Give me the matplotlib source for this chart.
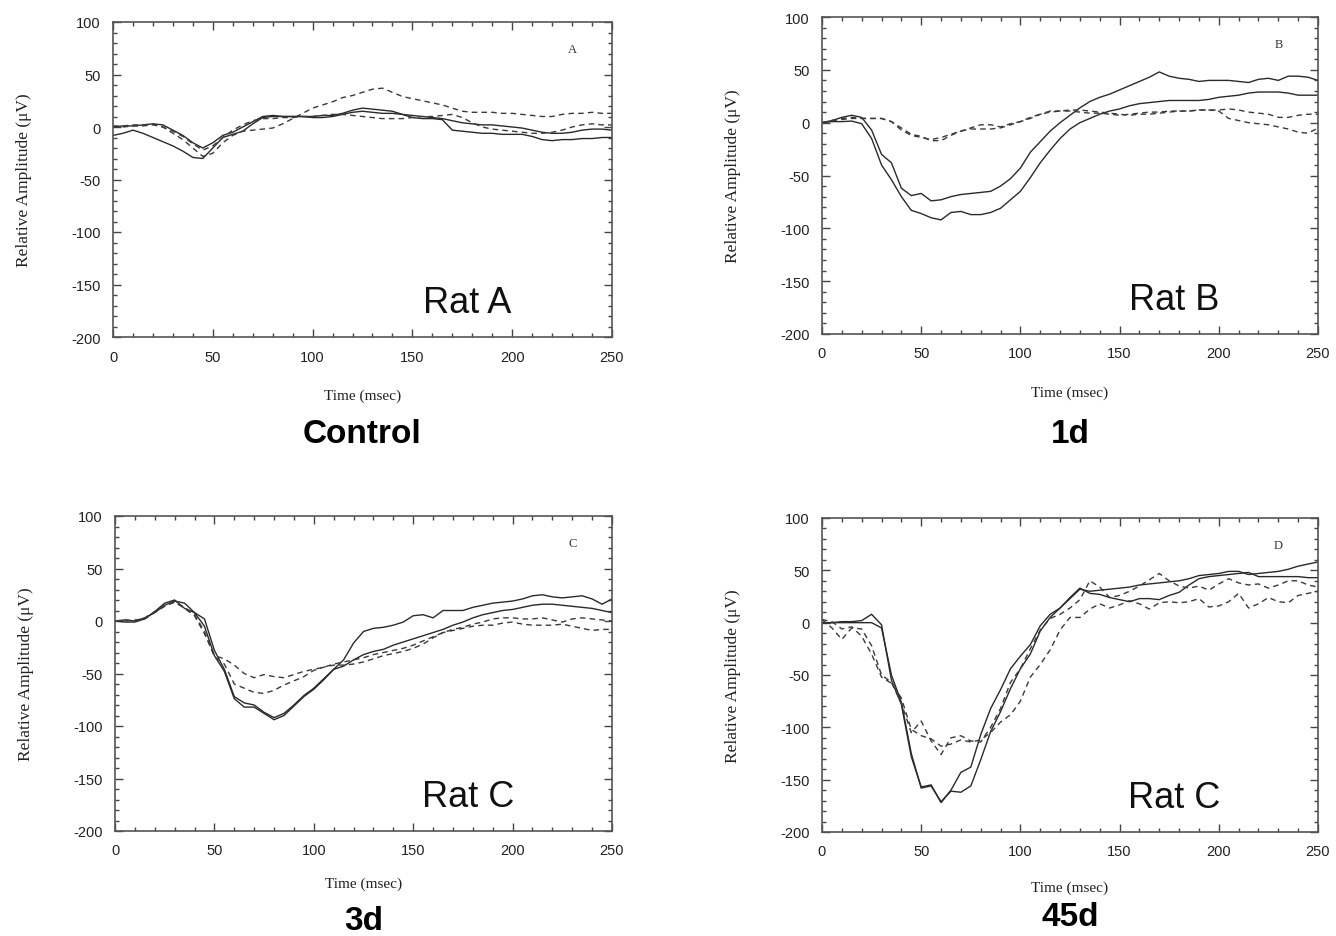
import numpy as np
import matplotlib
matplotlib.use('Agg')
import matplotlib.pyplot as plt
from matplotlib.ticker import MultipleLocator

plt.rcParams['axes.unicode_minus'] = False

W, H = 1336, 937

# sample times (msec), one value every 5 msec
time_ms = list(range(0, 251, 5))

# ---- panel A : control, Rat A
ctrl_solid1 = [-8, -6, -3, -6, -10, -14, -18, -23, -29, -30, -20, -10, -7, -4, 3, 9, 10, 10, 10, 10,
               10, 11, 11, 13, 16, 18, 17, 16, 15, 12, 9, 8, 8, 7, -3, -4, -5, -6, -6, -7,
               -7, -7, -9, -12, -13, -12, -12, -11, -11, -10, -10]
ctrl_solid2 = [0, 1, 1, 2, 3, 2, -3, -8, -15, -20, -15, -8, -5, 0, 5, 10, 11, 10, 10, 10,
               9, 9, 10, 12, 14, 15, 14, 13, 13, 12, 11, 10, 9, 8, 6, 4, 3, 2, 2, 1,
               0, -1, -3, -5, -6, -6, -5, -3, -2, -2, -3]
ctrl_dash1 = [1, 1, 2, 2, 3, 0, -6, -12, -20, -28, -25, -15, -8, -4, -3, -2, -1, 3, 8, 13,
              18, 21, 24, 28, 30, 33, 36, 37, 33, 29, 27, 25, 23, 21, 18, 15, 14, 14, 14, 13,
              13, 12, 11, 10, 10, 12, 13, 13, 14, 13, 13]
ctrl_dash2 = [0, 0, 1, 1, 2, 0, -4, -9, -16, -22, -18, -10, -3, 2, 6, 8, 8, 9, 9, 10,
              10, 11, 12, 12, 11, 10, 9, 8, 8, 8, 9, 10, 10, 11, 12, 9, 4, 0, -2, -3,
              -4, -5, -6, -6, -5, -3, 0, 2, 3, 2, 2]

# ---- panel B : 1 day, Rat B
d1_solid1 = [0, 1, 1, 1.5, -1, -15, -40, -54, -70, -83, -86, -90, -92, -85, -84, -87, -87, -85, -81, -73,
             -65, -52, -38, -26, -15, -6, 0, 4, 8, 11, 13, 16, 18, 19, 20, 21, 21, 21, 21, 22,
             24, 25, 26, 28, 29, 29, 29, 28, 26, 26, 26]
d1_solid2 = [0, 2, 5, 7, 5, -7, -30, -38, -62, -69, -67, -74, -73, -70, -68, -67, -66, -65, -60, -53,
             -43, -28, -18, -8, 0, 7, 14, 20, 24, 27, 31, 35, 39, 43, 48, 44, 42, 41, 39, 40,
             40, 40, 39, 38, 41, 42, 40, 44, 44, 43, 40]
d1_dash1 = [0, 2, 4, 5, 4, 4, 4, 1, -5, -11, -13, -17, -17, -12, -8, -5, -2, -2, -4, -1,
            1, 5, 8, 10, 11, 12, 12, 11, 10, 9, 8, 7, 8, 8, 9, 10, 11, 11, 12, 12,
            11, 4, 2, 0, -1, -2, -4, -6, -9, -10, -5]
d1_dash2 = [0, 2, 3, 4, 4, 4, 4, 1, -7, -12, -14, -16, -14, -11, -8, -6, -6, -6, -5, -2,
            1, 4, 8, 11, 11, 11, 10, 9, 9, 8, 7, 8, 9, 10, 10, 11, 11, 11, 12, 12,
            12, 13, 12, 10, 9, 8, 5, 5, 7, 8, 8]

# ---- panel C : 3 days, Rat C
d3_solid1 = [0, -1, -1, 2, 9, 17, 20, 12, 8, -5, -33, -48, -74, -82, -82, -88, -94, -90, -81, -72,
             -65, -56, -46, -37, -21, -10, -7, -6, -4, -1, 5, 6, 3, 10, 10, 10, 13, 15, 17, 18,
             19, 21, 24, 25, 23, 22, 23, 24, 21, 16, 21]
d3_solid2 = [0, 1, 0, 3, 8, 15, 19, 17, 8, 2, -28, -46, -72, -78, -80, -87, -92, -88, -80, -71,
             -64, -55, -46, -43, -37, -32, -29, -27, -23, -20, -17, -14, -11, -8, -4, -1, 3, 6, 8, 10,
             11, 13, 15, 16, 16, 15, 14, 13, 12, 10, 8]
d3_dash1 = [0, 0, 1, 2, 8, 14, 18, 12, 5, -12, -33, -36, -42, -50, -54, -51, -53, -54, -51, -48,
            -46, -44, -41, -39, -37, -35, -32, -30, -28, -26, -23, -19, -15, -11, -8, -6, -3, -1, 2, 3,
            3, 2, 2, 3, 1, -1, 2, 3, 2, 1, 0]
d3_dash2 = [0, 1, 0, 3, 9, 15, 18, 13, 6, -10, -34, -41, -60, -64, -68, -69, -66, -61, -57, -53,
            -47, -44, -42, -42, -41, -39, -36, -33, -31, -29, -26, -22, -16, -11, -9, -7, -5, -4, -4, -2,
            -1, -3, -4, -4, -4, -3, -5, -7, -9, -8, -8]

# ---- panel D : 45 days, Rat C
d45_solid1 = [0, 0, 1, 1, 2, 8, -2, -55, -78, -128, -157, -155, -172, -160, -143, -138, -107, -82, -64, -44,
              -32, -21, -3, 8, 14, 23, 32, 30, 31, 32, 33, 34, 36, 37, 38, 39, 40, 42, 45, 46,
              47, 49, 49, 46, 47, 48, 49, 51, 54, 56, 58]
d45_solid2 = [0, 0, 0, 0, 0, 0, -5, -50, -76, -125, -158, -156, -171, -161, -162, -156, -131, -104, -85, -63,
              -44, -30, -8, 5, 14, 24, 33, 28, 27, 24, 22, 20, 23, 23, 22, 26, 29, 36, 42, 44,
              45, 46, 47, 48, 44, 44, 44, 44, 44, 43, 43]
d45_dash1 = [3, -5, -16, -5, -6, -22, -50, -57, -77, -105, -94, -113, -126, -110, -108, -113, -114, -100, -82, -57,
             -44, -25, -7, 4, 8, 14, 22, 40, 34, 24, 26, 30, 35, 41, 47, 40, 35, 33, 35, 31,
             37, 42, 38, 36, 37, 33, 36, 40, 40, 36, 34]
d45_dash2 = [3, 1, -6, -4, -13, -30, -52, -58, -72, -102, -108, -111, -118, -116, -112, -114, -112, -105, -95, -88,
             -75, -52, -40, -26, -7, 5, 5, 13, 18, 14, 17, 21, 18, 13, 19, 20, 19, 20, 23, 15,
             16, 20, 28, 14, 18, 24, 20, 19, 26, 28, 30]

panels = [
    # (axes box in pixels: left, top, right, bottom), letter, rat, title, traces
    ((113, 23, 612, 338), 'A', 'Rat A', 'Control',
     [ctrl_solid1, ctrl_solid2], [ctrl_dash1, ctrl_dash2]),
    ((822, 18, 1318, 335), 'B', 'Rat B', '1d',
     [d1_solid1, d1_solid2], [d1_dash1, d1_dash2]),
    ((115, 517, 612, 832), 'C', 'Rat C', '3d',
     [d3_solid1, d3_solid2], [d3_dash1, d3_dash2]),
    ((822, 519, 1318, 833), 'D', 'Rat C', '45d',
     [d45_solid1, d45_solid2], [d45_dash1, d45_dash2]),
]

# extra label positions (pixels): x-label y, title y
xlabel_y = [396, 393, 884, 888]
title_y = [435, 435, 922, 918]

fig = plt.figure(figsize=(W / 100.0, H / 100.0), dpi=100)
fig.patch.set_facecolor('white')

def fx(px):
    return px / float(W)

def fy(py):
    return 1.0 - py / float(H)

line_col = '#2a2a2a'

for i, (box, letter, rat, title, solids, dashes) in enumerate(panels):
    l, t, r, b = box
    ax = fig.add_axes([fx(l), fy(b), fx(r) - fx(l), fy(t) - fy(b)])

    for s in solids:
        ax.plot(time_ms, s, color=line_col, lw=1.0, solid_joinstyle='miter')
    for d in dashes:
        ax.plot(time_ms, d, color='#3a3a3a', lw=1.0, dashes=(4, 3))

    ax.set_xlim(0, 250)
    ax.set_ylim(-200, 100)
    ax.xaxis.set_major_locator(MultipleLocator(50))
    ax.xaxis.set_minor_locator(MultipleLocator(10))
    ax.yaxis.set_major_locator(MultipleLocator(50))
    ax.yaxis.set_minor_locator(MultipleLocator(10))
    ax.tick_params(which='both', direction='in', top=True, right=True,
                   color='#444444', width=1.0)
    ax.tick_params(which='major', length=6, labelsize=10.5, pad=9)
    ax.tick_params(which='minor', length=3)
    for lab in ax.get_xticklabels() + ax.get_yticklabels():
        lab.set_family('Liberation Sans')
        lab.set_color('#222222')
    for sp in ax.spines.values():
        sp.set_color('#555555')
        sp.set_linewidth(1.2)

    ax.set_ylabel('Relative Amplitude (\u03bcV)', family='Liberation Serif',
                  fontsize=12.5, color='#222222', labelpad=28)

    cx = (l + r) / 2.0
    fig.text(fx(cx), fy(xlabel_y[i]), 'Time (msec)', family='Liberation Serif',
             fontsize=11, color='#222222', ha='center', va='center')
    fig.text(fx(cx), fy(title_y[i]), title, family='Liberation Sans',
             fontsize=24, weight='bold', color='black', ha='center', va='center')

    ax.text(0.71, 0.11, rat, transform=ax.transAxes, family='Liberation Sans',
            fontsize=26, color='#111111', ha='center', va='center')
    ax.text(0.92, 0.915, letter, transform=ax.transAxes, family='Liberation Serif',
            fontsize=9, color='#333333', ha='center', va='center')

plt.savefig('out.png', dpi=100, facecolor='white')
